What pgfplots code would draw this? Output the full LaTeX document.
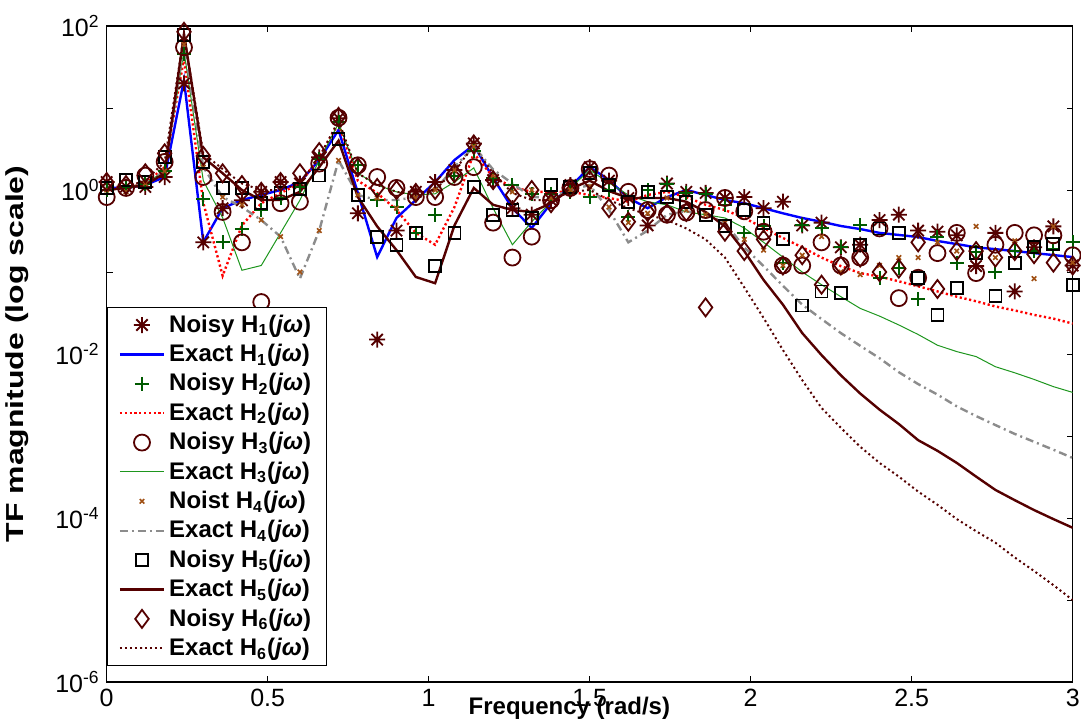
\documentclass[border=0pt]{standalone}
\usepackage{fontspec}
\setmainfont{Liberation Sans}
\usepackage{graphicx}
\usepackage{pgfplots}
\pgfplotsset{compat=1.18}
\usepackage{pgfplotstable}

\definecolor{mar}{RGB}{85,0,0}
\definecolor{dgreen}{RGB}{0,90,0}
\definecolor{lgreen}{RGB}{30,150,30}
\definecolor{brownx}{RGB}{160,80,20}
\definecolor{grayd}{RGB}{140,140,140}

\pgfdeclareplotmark{mstar}{%
 \pgfpathmoveto{\pgfqpoint{\pgfplotmarksize}{0pt}}\pgfpathlineto{\pgfqpoint{-\pgfplotmarksize}{0pt}}%
 \pgfpathmoveto{\pgfqpoint{0pt}{\pgfplotmarksize}}\pgfpathlineto{\pgfqpoint{0pt}{-\pgfplotmarksize}}%
 \pgfpathmoveto{\pgfqpoint{.7071\pgfplotmarksize}{.7071\pgfplotmarksize}}\pgfpathlineto{\pgfqpoint{-.7071\pgfplotmarksize}{-.7071\pgfplotmarksize}}%
 \pgfpathmoveto{\pgfqpoint{-.7071\pgfplotmarksize}{.7071\pgfplotmarksize}}\pgfpathlineto{\pgfqpoint{.7071\pgfplotmarksize}{-.7071\pgfplotmarksize}}%
 \pgfusepathqstroke}

\pgfplotstableread{
x    n1    e1    n2    e2    n3    e3    n4    e4    n5    e5    n6    e6
0.00 1.25  1.06  1.0   1.06  0.82  1.0   1.0   1.0   1.06  1.0   1.25  1.1
0.06 1.1   1.06  1.1   1.06  1.06  1.06  0.95  1.06  1.32  1.06  1.15  1.1
0.12 1.09  1.15  1.2   1.2   1.5   1.2   1.2   1.2   1.25  1.15  1.6   1.3
0.18 1.44  1.44  1.7   1.9   2.2   1.7   1.7   1.7   2.5   1.6   2.8   2.2
0.24 20    21.9  45    40    55    50    60    60    78    80    85    80
0.30 0.23  0.232 0.77  0.7   1.44  1.3   1.9   1.9   2.2   2.5   2.6   2.8
0.36 0.6   0.6   0.23  0.09  0.54  0.46  0.82  0.82  1.06  1.6   1.6   1.8
0.42 0.75  0.755 0.33  0.37  0.23  0.105 0.66  0.62  1.06  1.0   1.15  1.2
0.48 0.95  0.87  0.57  0.69  0.043 0.12  0.43  0.43  0.69  0.755 0.95  1.0
0.54 1.25  1.0   0.8   0.92  0.69  0.30  0.27  0.27  0.92  0.755 1.25  1.0
0.60 1.2   1.25  1.1   1.2   0.72  0.75  0.1   0.083 1.03  0.95  1.6   1.2
0.66 2.5   2.32  2.4   2.5   2.1   2.3   0.32  0.32  1.5   1.9   2.9   2.5
0.72 7.5   5.4   6.8   6.5   7.6   6.5   2.3   2.3   4.2   4.0   7.8   7.0
0.78 0.52  0.92  2.0   1.3   2.0   1.6   0.87  0.87  0.87  0.82  1.9   1.6
0.84 0.015 0.152 0.75  0.92  1.44  1.15  0.8   0.755 0.27  0.36  1.06  1.15
0.90 0.32  0.456 0.62  0.57  1.06  0.95  0.6   0.755 0.215 0.185 1.0   0.95
0.96 0.95  0.755 0.30  0.30  0.82  0.87  0.8   0.82  0.3   0.087 0.92  0.87
1.02 1.25  1.25  0.5   0.215 0.82  0.9   1.0   1.0   0.118 0.073 1.0   1.0
1.08 1.75  2.32  1.5   0.62  1.44  1.25  1.75  1.9   0.3   0.37  1.6   1.75
1.14 3.7   3.54  3.0   2.8   1.9   1.86  3.4   3.4   1.09  1.06  3.6   3.4
1.20 1.32  1.40  1.4   1.44  0.4   0.6   1.5   1.78  0.5   0.66  1.32  1.6
1.26 0.6   0.60  1.15  1.09  0.15  0.215 0.95  1.2   0.57  0.57  0.87  0.92
1.32 0.5   0.344 0.9   0.95  0.27  0.41  1.0   0.82  0.46  0.54  1.0   0.755
1.38 0.75  0.69  0.9   0.95  0.75  0.72  0.8   0.82  1.15  0.69  0.69  0.755
1.44 1.15  1.09  0.95  0.95  1.06  1.06  1.0   1.0   1.1   1.03  1.06  0.95
1.50 1.9   1.91  0.82  0.87  1.8   1.75  1.1   1.15  1.6   1.3   1.32  1.0
1.56 1.3   1.32  1.0   0.8   1.5   1.22  0.62  0.57  1.15  0.97  0.6   0.755
1.62 0.8   0.80  0.47  0.72  0.95  0.87  0.4   0.23  0.72  0.8   0.41  0.6
1.68 0.37  0.60  1.0   0.87  0.57  0.72  0.52  0.32  0.95  0.8   0.54  0.5
1.74 1.2   0.82  1.2   0.95  0.5   0.66  0.8   0.5   0.82  0.8   0.52  0.43
1.80 0.95  1.0   0.92  0.82  0.53  0.54  0.57  0.55  0.72  0.72  0.54  0.34
1.86 0.92  0.87  0.9   0.66  0.57  0.5   0.5   0.5   0.5   0.54  0.037 0.25
1.92 0.8   0.755 0.66  0.57  0.8   0.456 0.4   0.4   0.36  0.36  0.31  0.15
1.98 0.82  0.69  0.30  0.456 0.55  0.344 0.25  0.2   0.57  0.18  0.18  0.065
2.04 0.6   0.60  0.36  0.344 0.31  0.23  0.185 0.118 0.4   0.08  0.25  0.0275
2.10 0.72  0.52  0.13  0.26  0.12  0.152 0.12  0.068 0.25  0.04  0.12  0.0112
2.16 0.37  0.456 0.37  0.2   0.12  0.10  0.16  0.040 0.039 0.018 0.16  0.0048
2.22 0.40  0.41  0.34  0.15  0.23  0.07  0.27  0.0267 0.058 0.0097 0.07 0.0022
2.28 0.2   0.364 0.2   0.118 0.12  0.05  0.1   0.018 0.056 0.0055 0.12  0.00126
2.34 0.215 0.334 0.37  0.097 0.15  0.036 0.093 0.0126 0.215 0.0033 0.15 0.00074
2.40 0.43  0.30  0.085 0.088 0.34  0.029 0.12  0.0089 0.34  0.0021 0.1   0.00047
2.46 0.5   0.283 0.112 0.077 0.048 0.0226 0.15 0.006 0.30  0.0014 0.11  0.00032
2.52 0.32  0.267 0.047 0.067 0.085 0.0173 0.15 0.0043 0.085 0.00089 0.23 0.00021
2.58 0.31  0.239 0.27  0.058 0.17  0.0128 0.23 0.0032 0.03  0.00066 0.062 0.000145
2.64 0.28  0.219 0.13  0.050 0.30  0.0107 0.18 0.0023 0.064 0.00047 0.18 0.000097
2.70 0.118 0.20  0.175 0.044 0.097 0.0093 0.36 0.00175 0.17 0.00032 0.18 0.000069
2.76 0.30  0.19  0.1   0.038 0.215 0.0070 0.15 0.00136 0.051 0.00022 0.15 0.00005
2.82 0.058 0.18  0.18  0.034 0.3   0.0059 0.24 0.00106 0.13 0.000165 0.18 0.000033
2.88 0.2   0.17  0.18  0.030 0.28  0.0049 0.083 0.00085 0.2 0.000125 0.165 0.0000226
2.94 0.36  0.161 0.19  0.027 0.28  0.0040 0.36 0.00068 0.22 0.000097 0.13 0.0000152
3.00 0.12  0.152 0.23  0.0235 0.16 0.0034 0.13 0.00054 0.07 0.000076 0.12 0.00001
}\tf

\begin{document}
\begin{tikzpicture}
\begin{axis}[
  scale only axis, width=483pt, height=328pt,
  xmin=0, xmax=3, ymode=log, ymin=1e-6, ymax=1e2,
  xtick={0,0.5,1,1.5,2,2.5,3},
  xticklabels={0,0.5,1,1.5,2,2.5,3},
  ytick={1e-6,1e-4,1e-2,1,1e2},
  yticklabels={10\textsuperscript{-6},10\textsuperscript{-4},10\textsuperscript{-2},10\textsuperscript{0},10\textsuperscript{2}},
  minor ytick={1e-5,1e-3,1e-1,1e1},
  tick align=inside, tick pos=both,
  major tick length=3pt, minor tick length=3pt,
  tick style={black, line width=0.5pt},
  axis line style={black, line width=0.6pt},
  tick label style={font=\fontsize{12.5}{14}\selectfont},
  xlabel={Frequency (rad/s)},
  ylabel={\scalebox{1.3}[1]{TF magnitude (log scale)}},
  xlabel style={font=\fontsize{12}{14}\selectfont\bfseries, at={(axis description cs:0.479,-0.04)}, anchor=center},
  ylabel style={font=\fontsize{12.3}{14}\selectfont\bfseries, at={(axis description cs:-0.0929,0.5)}, anchor=center},
  legend cell align=left,
  legend image code/.code={\draw[mark repeat=2,mark phase=2,#1] plot coordinates {(0pt,0pt) (11pt,0pt) (22pt,0pt)};},
  legend style={at={(axis description cs:0,0.0244)}, anchor=south west,
    draw=black, line width=0.5pt, fill=white,
    font=\fontsize{12}{13.5}\selectfont\bfseries,
    inner xsep=5.8pt, inner ysep=1.5pt, row sep=0.5pt,
    /tikz/every even column/.append style={column sep=2.5pt}},
]
\addplot[only marks, mark=mstar, mark size=4pt, color=mar, line width=0.9pt] table[x=x,y=n1]{\tf};
\addlegendentry{Noisy H\textsubscript{1}(\textit{jω})}
\addplot[blue, line width=1.2pt] table[x=x,y=e1]{\tf};
\addlegendentry{Exact H\textsubscript{1}(\textit{jω})}
\addplot[only marks, mark=+, mark size=3.5pt, color=dgreen, line width=1pt] table[x=x,y=n2]{\tf};
\addlegendentry{Noisy H\textsubscript{2}(\textit{jω})}
\addplot[red, line width=1.2pt, dash pattern=on 1.1pt off 1.3pt] table[x=x,y=e2]{\tf};
\addlegendentry{Exact H\textsubscript{2}(\textit{jω})}
\addplot[only marks, mark=o, mark size=4pt, color=mar, line width=0.9pt] table[x=x,y=n3]{\tf};
\addlegendentry{Noisy H\textsubscript{3}(\textit{jω})}
\addplot[lgreen, line width=0.5pt] table[x=x,y=e3]{\tf};
\addlegendentry{Exact H\textsubscript{3}(\textit{jω})}
\addplot[only marks, mark=x, mark size=1.6pt, color=brownx, line width=0.8pt] table[x=x,y=n4]{\tf};
\addlegendentry{Noist H\textsubscript{4}(\textit{jω})}
\addplot[grayd, line width=1.2pt, dash pattern=on 4pt off 2pt on 1pt off 2pt] table[x=x,y=e4]{\tf};
\addlegendentry{Exact H\textsubscript{4}(\textit{jω})}
\addplot[only marks, mark=square, mark size=3pt, color=black, line width=0.9pt] table[x=x,y=n5]{\tf};
\addlegendentry{Noisy H\textsubscript{5}(\textit{jω})}
\addplot[mar, line width=1.2pt] table[x=x,y=e5]{\tf};
\addlegendentry{Exact H\textsubscript{5}(\textit{jω})}
\addplot[only marks, mark=diamond, mark size=4.5pt, color=mar, line width=0.9pt] table[x=x,y=n6]{\tf};
\addlegendentry{Noisy H\textsubscript{6}(\textit{jω})}
\addplot[mar, line width=1pt, dash pattern=on 1pt off 1.5pt] table[x=x,y=e6]{\tf};
\addlegendentry{Exact H\textsubscript{6}(\textit{jω})}
\end{axis}
\pgfresetboundingbox
\useasboundingbox ([shift={(-53.35pt,-20.5pt)}]current axis.south west) rectangle ([shift={(4.15pt,13pt)}]current axis.north east);
\end{tikzpicture}
\end{document}
